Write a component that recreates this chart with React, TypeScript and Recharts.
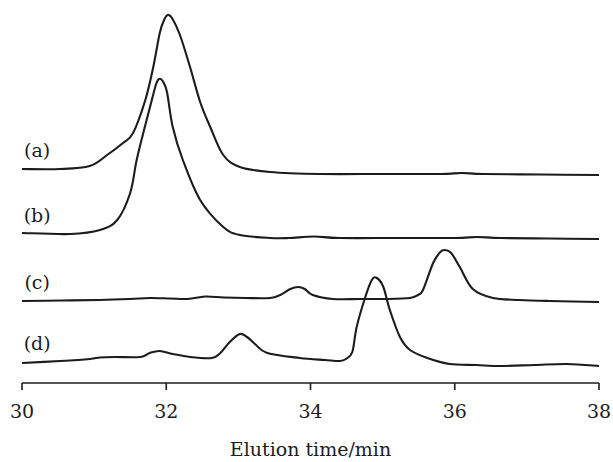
import React from 'react';
import { LineChart, Line, XAxis, YAxis, ReferenceDot, Label } from 'recharts';

// Elution times (min) and detector signal (arbitrary units, traces stacked with offsets)
const TIME_A = [30, 30.53, 30.94, 31.18, 31.4, 31.54, 31.71, 31.82, 31.91, 31.97, 32.02, 32.08, 32.19, 32.33, 32.47, 32.61, 32.79, 33.02, 33.44, 34.13, 35.0, 35.8, 36.1, 36.4, 37.2, 38];
const SIGNAL_A = [214, 214, 217, 228, 240, 250, 283, 316, 350, 363, 368, 365, 348, 316, 281, 256, 228, 216, 211, 209, 209, 209, 210, 209, 208.5, 208];

const TIME_B = [30, 30.67, 31.08, 31.32, 31.5, 31.59, 31.71, 31.8, 31.86, 31.9, 31.95, 32.01, 32.09, 32.23, 32.47, 32.79, 33.02, 33.44, 33.7, 34.05, 34.4, 35.2, 36.0, 36.31, 36.63, 37.3, 38];
const SIGNAL_B = [150, 149, 153, 163, 190, 223, 258, 283, 299, 304, 302, 291, 256, 223, 183, 156, 148, 145, 145, 146.5, 145, 145, 145, 146, 145, 144.5, 144];

const TIME_C = [30, 30.55, 31.08, 31.5, 31.77, 32.05, 32.3, 32.54, 32.8, 33.1, 33.44, 33.58, 33.72, 33.83, 33.92, 34.03, 34.31, 34.69, 35.05, 35.38, 35.49, 35.56, 35.7, 35.8, 35.86, 35.95, 36.07, 36.25, 36.53, 36.9, 37.32, 38];
const SIGNAL_C = [82, 82.5, 83, 84, 85, 84.5, 84, 86.5, 85.5, 85, 85, 88, 94, 96, 94, 88, 84, 84, 84, 85, 88, 93, 120, 131, 133, 130, 116, 94, 85, 83, 82, 81];

const TIME_D = [30, 30.53, 30.94, 31.08, 31.29, 31.64, 31.77, 31.91, 32.09, 32.33, 32.63, 32.75, 32.88, 33.02, 33.12, 33.23, 33.4, 33.85, 34.2, 34.41, 34.49, 34.58, 34.64, 34.76, 34.85, 34.92, 35.01, 35.1, 35.24, 35.38, 35.62, 35.93, 36.3, 36.63, 37.1, 37.56, 38];
const SIGNAL_D = [20, 22, 24, 25.5, 26, 26, 30, 32, 29, 26, 25, 30, 41, 49, 46, 39, 30, 25, 23, 22, 24, 31, 56, 86, 103, 105, 96, 73, 46, 33, 25, 19, 18, 17, 18, 19, 17];

const X_TICKS = [30, 32, 34, 36, 38];
const TRACE_LABELS = ['(a)', '(b)', '(c)', '(d)'];
const LABEL_LEVELS = [233, 168, 101, 40];

const toPoints = (times: number[], values: number[]) =>
  times.map((t, i) => ({ t, v: values[i] }));

const SERIES = [
  toPoints(TIME_A, SIGNAL_A),
  toPoints(TIME_B, SIGNAL_B),
  toPoints(TIME_C, SIGNAL_C),
  toPoints(TIME_D, SIGNAL_D),
];

// smooth curve through every point (catmull-rom as cubic beziers)
const smoothCurve = (context: any) => {
  let pts: number[][] = [];
  return {
    areaStart() {},
    areaEnd() {},
    lineStart() {
      pts = [];
    },
    point(x: number, y: number) {
      pts.push([x, y]);
    },
    lineEnd() {
      if (!pts.length) return;
      context.moveTo(pts[0][0], pts[0][1]);
      for (let i = 0; i < pts.length - 1; i++) {
        const p0 = pts[i - 1] || pts[i];
        const p1 = pts[i];
        const p2 = pts[i + 1];
        const p3 = pts[i + 2] || p2;
        context.bezierCurveTo(
          p1[0] + (p2[0] - p0[0]) / 6, p1[1] + (p2[1] - p0[1]) / 6,
          p2[0] - (p3[0] - p1[0]) / 6, p2[1] - (p3[1] - p1[1]) / 6,
          p2[0], p2[1]
        );
      }
    },
  };
};

const INK = '#1c1c1c';
const FONT = '"DejaVu Serif", "Liberation Serif", serif';

export default function App() {
  return (
    <div style={{ position: 'absolute', left: 0, top: 0, background: '#fff' }}>
      <LineChart width={613} height={462} margin={{ top: 5, right: 14, bottom: 0, left: 22 }}>
        <XAxis
          type="number"
          dataKey="t"
          domain={[30, 38]}
          ticks={X_TICKS}
          allowDataOverflow
          height={79}
          tickSize={7}
          tickMargin={15}
          axisLine={{ stroke: INK, strokeWidth: 1.6 }}
          tickLine={{ stroke: INK, strokeWidth: 1.6 }}
          tick={{ fill: INK, fontSize: 19, fontFamily: FONT }}
        >
          <Label
            value="Elution time/min"
            position="insideBottom"
            offset={6}
            style={{ fill: INK, fontSize: 19, fontFamily: FONT }}
          />
        </XAxis>
        <YAxis hide type="number" domain={[0, 378]} allowDataOverflow />
        {SERIES.map((pts, i) => (
          <Line
            key={TRACE_LABELS[i]}
            data={pts}
            dataKey="v"
            type={smoothCurve as any}
            stroke={INK}
            strokeWidth={2.1}
            dot={false}
            activeDot={false}
            isAnimationActive={false}
          />
        ))}
        {TRACE_LABELS.map((lab, i) => (
          <ReferenceDot
            key={lab}
            x={30.21}
            y={LABEL_LEVELS[i]}
            r={1}
            fill="none"
            stroke="none"
            label={{ value: lab, position: 'center', fill: INK, fontSize: 19, fontFamily: FONT }}
          />
        ))}
      </LineChart>
    </div>
  );
}
